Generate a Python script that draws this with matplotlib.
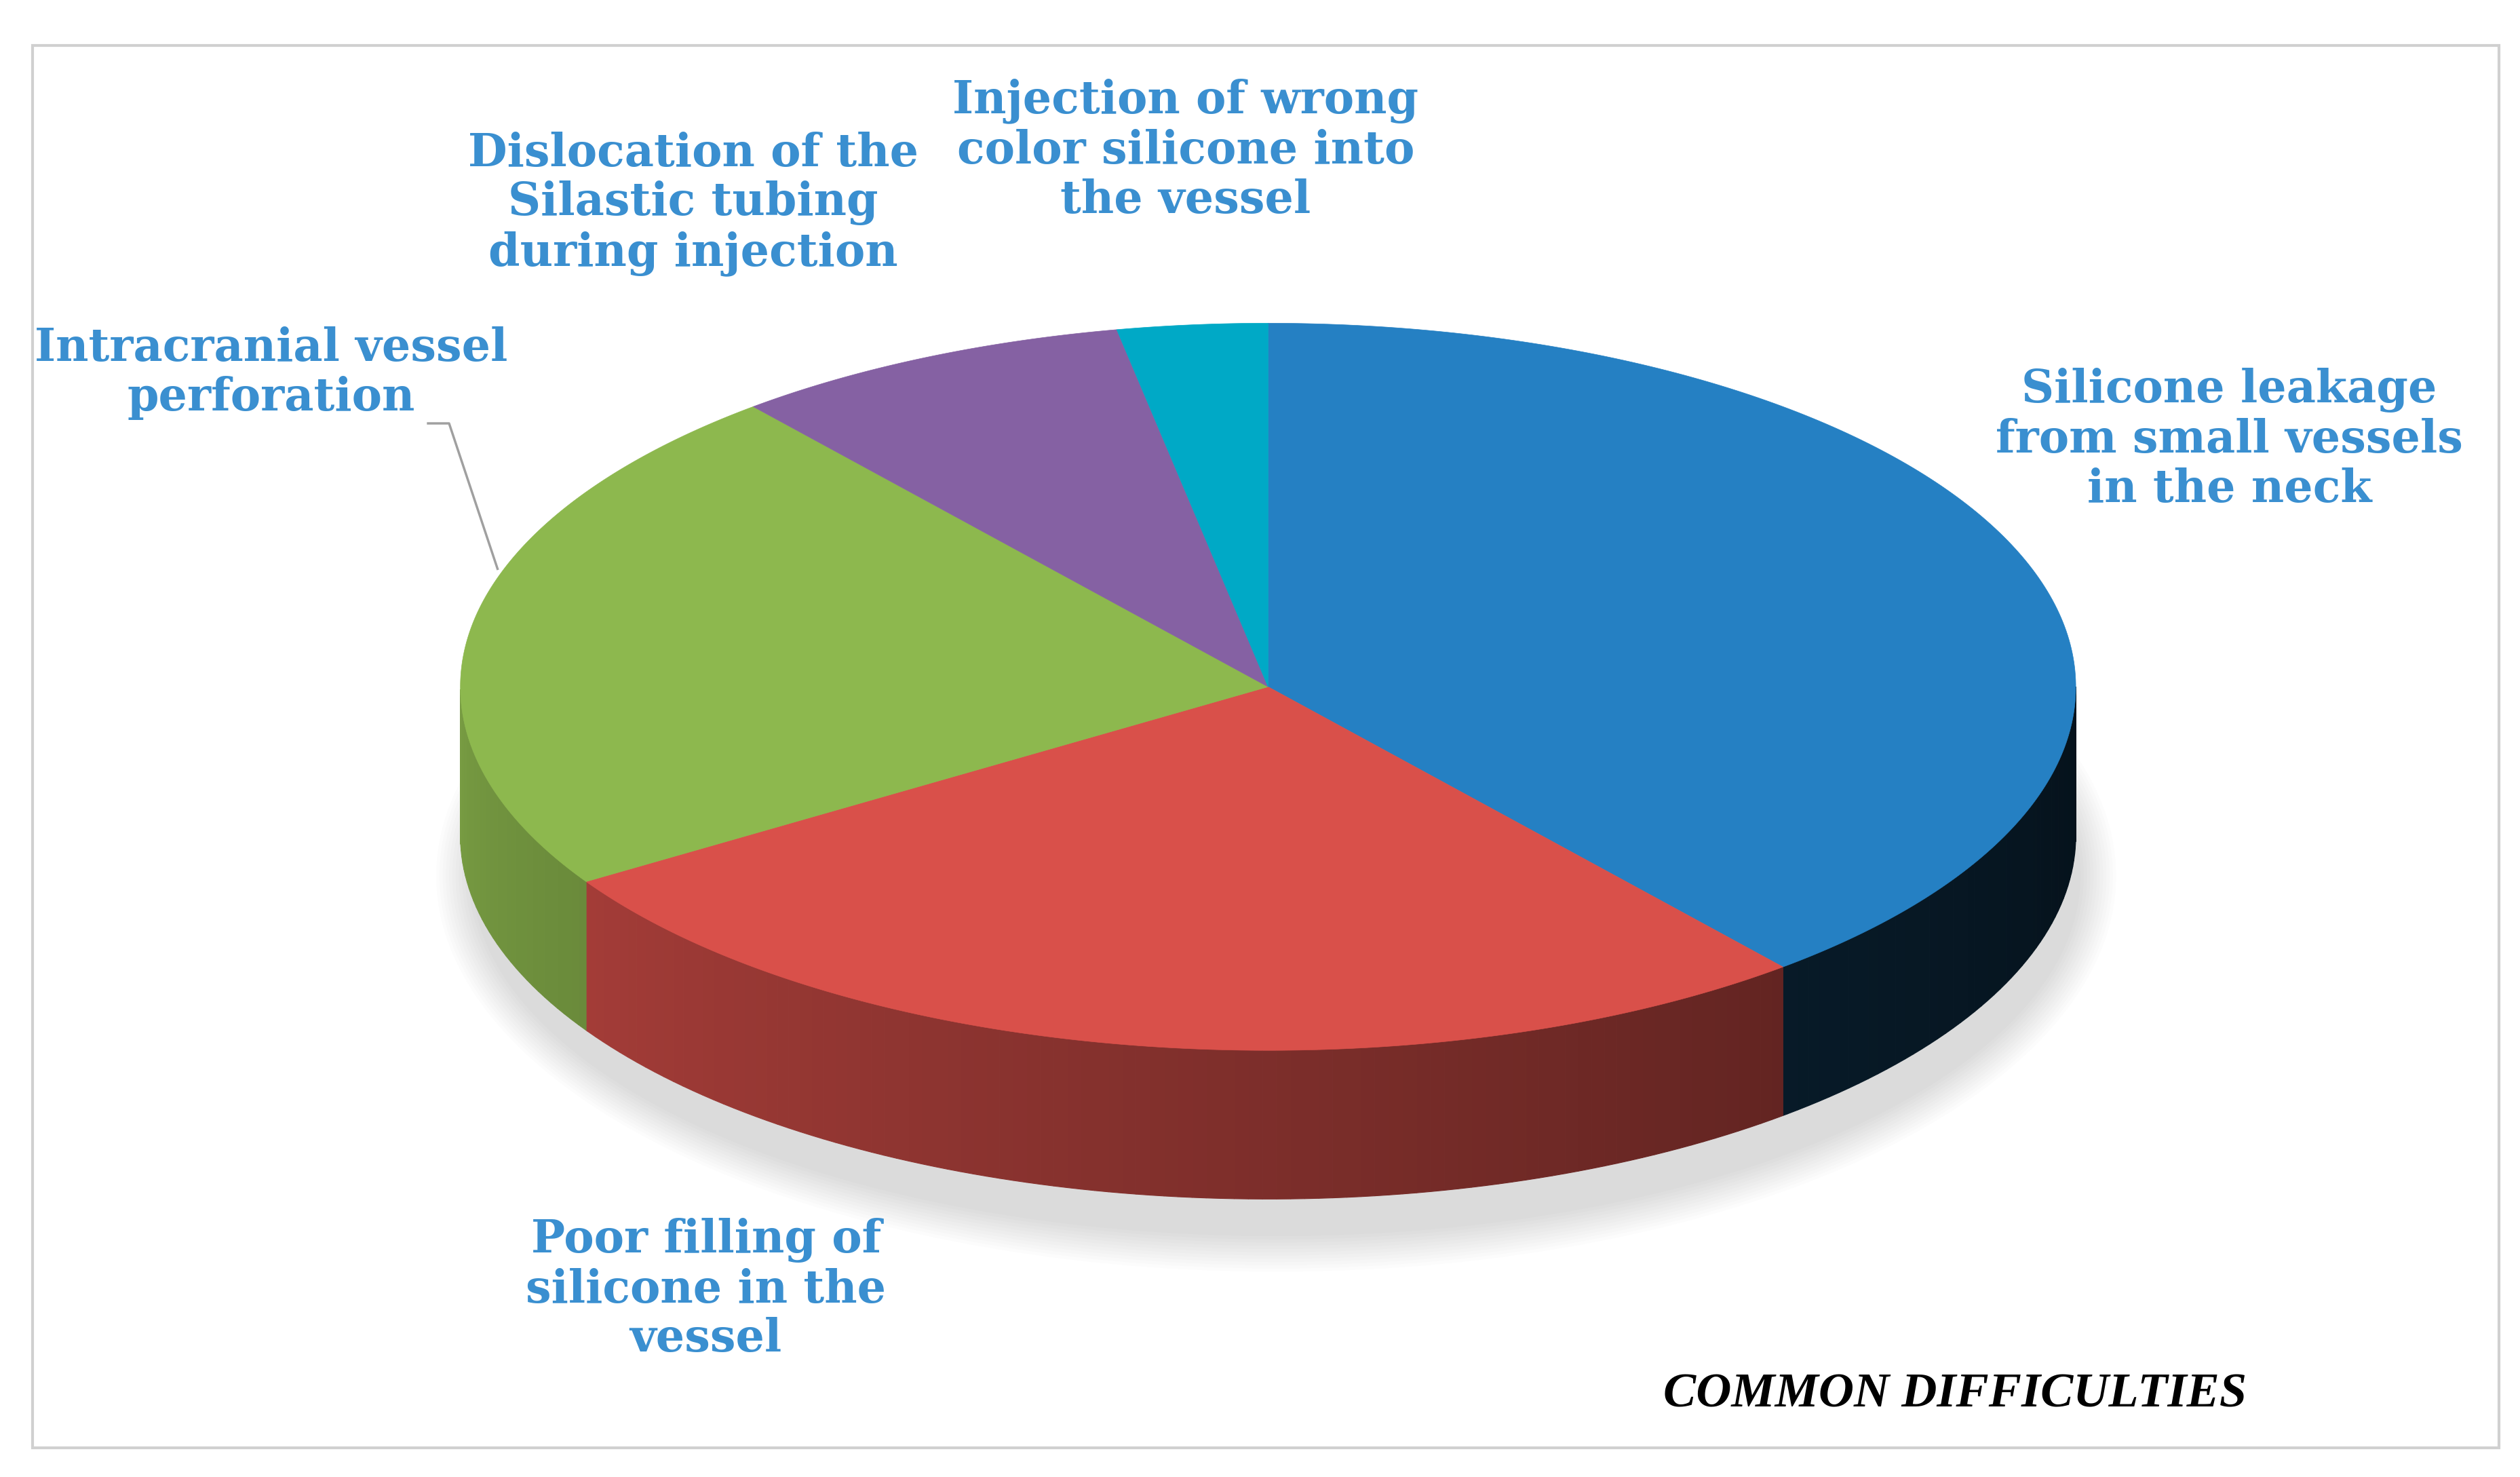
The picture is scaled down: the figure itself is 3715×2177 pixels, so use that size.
import matplotlib.pyplot as plt
import numpy as np
from matplotlib.patches import Polygon, Ellipse, Rectangle
import matplotlib.colors as mcolors

# data
categories = ["Silicone leakage\nfrom small vessels\nin the neck",
              "Poor filling of\nsilicone in the\nvessel",
              "Intracranial vessel\nperforation",
              "Dislocation of the\nSilastic tubing\nduring injection",
              "Injection of wrong\ncolor silicone into\nthe vessel"]
values = [39, 27, 23, 8, 3]
colors = ["#2580c3", "#d9504a", "#8db84e", "#8561a3", "#00a9c6"]
label_pos = [(1380, 272), (437, 798), (168, 231), (429, 126), (734, 93)]

W, H = 1560, 914
cx, cy, rx, ry, depth = 785, 425, 500, 225, 92

fig = plt.figure(figsize=(37.15, 21.77), dpi=100)
ax = fig.add_axes([0, 0, 1, 1])
ax.set_xlim(0, W)
ax.set_ylim(H, 0)
ax.axis("off")

ax.add_patch(Rectangle((20, 28), 1527, 868, fill=False, ec="#d0d0d0", lw=3))


def pt(t, dy=0):
    r = np.radians(t)
    return cx + rx * np.cos(r), cy - ry * np.sin(r) + dy


# soft shadow
for k in range(12):
    ax.add_patch(Ellipse((cx + 5, cy + depth + 25), 2 * rx + 40 - k * 4, 2 * ry + 40 - k * 4,
                         color="#000000", alpha=0.012, lw=0))

# wedge angle ranges (clockwise from 90 deg)
fracs = np.array(values) / sum(values) * 360
ends = 90 - np.cumsum(fracs)
starts = ends + fracs

# side walls
for s, e, c in zip(starts, ends, colors):
    base = np.array(mcolors.to_rgb(c))
    t = s
    while t > e:
        t2 = max(t - 1.0, e)
        tm = ((t + t2) / 2) % 360
        if tm > 180:
            f = 0.85 - 0.55 * (tm - 180) / 180
            if c == colors[0]:
                f *= 0.45
            x1, y1 = pt(t)
            x2, y2 = pt(t2)
            ax.add_patch(Polygon([(x1, y1), (x2, y2), (x2, y2 + depth), (x1, y1 + depth)],
                                 closed=True, fc=np.clip(base * f, 0, 1), ec=np.clip(base * f, 0, 1), lw=0.8))
        t = t2

# top faces
for s, e, c in zip(starts, ends, colors):
    ts = np.linspace(s, e, 200)
    pts = [(cx, cy)] + [pt(t) for t in ts]
    ax.add_patch(Polygon(pts, closed=True, fc=c, ec=c, lw=0.5))

# labels
for (x, y), txt in zip(label_pos, categories):
    ax.text(x, y, txt, ha="center", va="center", fontsize=48, color="#3a8fd0",
            family="DejaVu Serif", weight="bold", linespacing=1.15)

ax.plot([265, 278, 308], [262, 262, 352], color="#a0a0a0", lw=2.5)

ax.text(1210, 863, "COMMON DIFFICULTIES", ha="center", va="center", fontsize=52,
        family="Liberation Serif", weight="bold", style="italic", color="black")

fig.savefig("out.png", dpi=100)
